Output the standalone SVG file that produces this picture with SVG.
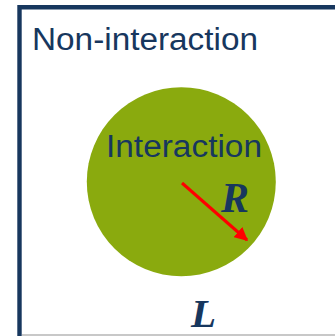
<svg xmlns="http://www.w3.org/2000/svg" width="335" height="336" viewBox="0 0 335 336">
<style>
.lbl{font-family:"Liberation Sans",Arial,sans-serif;fill:#17375E;font-size:31px}
.var{font-family:"Liberation Serif","Times New Roman",serif;font-weight:bold;font-style:italic;fill:#17375E;font-size:42px}
</style>
<defs>
<marker id="ah" viewBox="0 0 10 10" refX="9" refY="5" markerWidth="4.5" markerHeight="4.5" orient="auto" markerUnits="strokeWidth">
<path d="M0,0 L10,5 L0,10 z" fill="#FF0000"/>
</marker>
</defs>
<rect width="335" height="336" fill="#FFFFFF"/>
<line x1="22" y1="335" x2="335" y2="335" stroke="#C8C8C8" stroke-width="2"/>
<g id="frame">
<path d="M19.5,336 V7.2 H336" fill="none" stroke="#17375E" stroke-width="4.4"/>
<text class="lbl" x="32" y="50" textLength="226" lengthAdjust="spacingAndGlyphs">Non-interaction</text>
</g>
<g id="interaction">
<circle cx="181.3" cy="181.8" r="94.5" fill="#8AAA0E"/>
<text class="lbl" x="106" y="157" textLength="156" lengthAdjust="spacingAndGlyphs">Interaction</text>
</g>
<g id="connectors">
<line x1="182" y1="183" x2="247" y2="240" stroke="#FF0000" stroke-width="3" marker-end="url(#ah)"/>
</g>
<g id="labels">
<text class="var" x="221" y="212">R</text>
<text class="var" x="191" y="327" style="font-size:41px">L</text>
</g>
</svg>
